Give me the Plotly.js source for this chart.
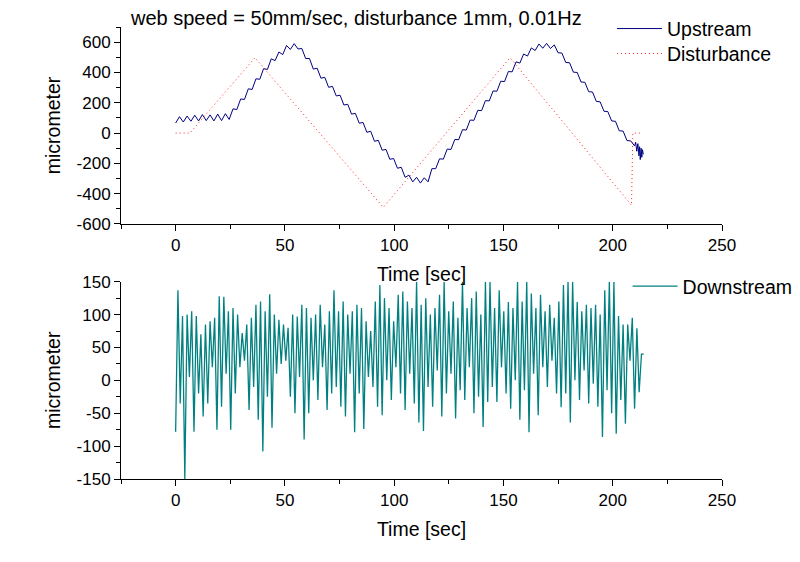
<!DOCTYPE html>
<html><head><meta charset="utf-8">
<script src="https://cdn.plot.ly/plotly-3.0.1.min.js"></script>
<style>html,body{margin:0;padding:0;background:#fff}#chart{width:800px;height:562px}</style>
</head><body><div id="chart"></div>
<script>
const chartTitle = 'web speed = 50mm/sec, disturbance 1mm, 0.01Hz';
const xTitle = 'Time [sec]';
const yTitle = 'micrometer';
const seriesNames = ['Upstream', 'Disturbance', 'Downstream'];

// Upstream: sampled every 1.75 s from t = 0, plus a short dense tail at the end
const upStep = 1.75;
const upValues = [
 66,108,73,112,78,118,80,122,82,120,
 80,125,82,128,90,160,155,225,222,292,
 288,358,355,425,420,490,478,535,518,578,
 552,590,555,558,492,492,422,428,362,368,
 302,308,245,250,185,190,125,130,65,70,
 5,12,-54,-48,-113,-108,-173,-168,-232,-226,
 -292,-278,-322,-292,-330,-295,-322,-235,-235,-170,
 -172,-106,-108,-42,-44,22,20,86,84,150,
 148,214,212,278,276,342,340,406,404,470,
 462,522,508,562,545,588,560,592,558,582,
 530,528,466,464,402,400,337,335,273,271,
 209,206,144,142,80,78,15,13,-49,-52,
 -85
];
const upTailTime = [210.5, 211, 211.5, 212, 212.3, 212.6, 213, 213.3, 213.6, 214];
const upTailValues = [-60, -120, -70, -150, -90, -175, -100, -160, -110, -140];

// Disturbance (triangle wave)
const distTime = [0, 6.5, 36.3, 95, 153, 208.6, 209.2, 213.5];
const distValues = [0, 0, 497, -490, 497, -476, 0, 0];

// Downstream: sampled every 1.05 s from t = 0
const downStep = 1.05;
const downValues = [
 -78,137,-35,98,-150,100,5,105,-78,98,
 -20,70,-55,85,-35,90,20,95,-75,128,
 -40,127,10,105,-75,110,-20,100,20,72,
 30,85,-45,95,-10,115,-60,120,-108,105,
 -25,131,-72,100,10,92,25,85,30,80,
 -25,100,-50,97,5,115,-90,110,-50,95,
 0,100,-30,115,20,85,-45,105,-20,137,
 -10,105,-40,120,-55,100,10,105,-79,115,
 -20,110,-74,90,5,75,-10,120,-40,145,
 -53,125,0,110,-30,90,20,130,-20,135,
 -45,120,10,110,-35,150,-64,115,-77,125,
 -10,100,-40,110,15,130,-55,150,-20,105,
 10,120,-58,95,-15,150,-30,110,20,125,
 -50,135,-25,100,-71,150,-33,150,-10,110,
 -33,137,20,105,-20,119,-43,110,0,150,
 -60,120,-15,150,-79,132,10,110,-53,130,
 20,105,-10,115,30,95,-20,120,-41,145,
 -20,150,-64,150,0,119,-30,105,15,115,
 -35,110,-5,115,-40,100,-86,137,-15,150,
 -50,150,-81,98,-30,85,-66,85,30,95,
 -43,79,-18,40,40
];

const xTickVals = [0, 50, 100, 150, 200, 250];
const xTickText = ['0', '50', '100', '150', '200', '250'];
const topYTickVals = [-600, -400, -200, 0, 200, 400, 600];
const topYTickText = ['-600', '-400', '-200', '0', '200', '400', '600'];
const botYTickVals = [-150, -100, -50, 0, 50, 100, 150];
const botYTickText = ['-150', '-100', '-50', '0', '50', '100', '150'];

const upTime = upValues.map((_, i) => i * upStep).concat(upTailTime);
const upAll = upValues.concat(upTailValues);
const downTime = downValues.map((_, i) => i * downStep);

const FONT = 'Liberation Sans, Arial, sans-serif';

const traces = [
  {x: upTime, y: upAll, name: seriesNames[0], mode: 'lines', xaxis: 'x', yaxis: 'y',
   line: {color: '#000080', width: 1}, legend: 'legend'},
  {x: distTime, y: distValues, name: seriesNames[1], mode: 'lines', xaxis: 'x', yaxis: 'y',
   line: {color: '#ff2020', width: 1, dash: '1px,3px'}, legend: 'legend3'},
  {x: downTime, y: downValues, name: seriesNames[2], mode: 'lines', xaxis: 'x2', yaxis: 'y2',
   line: {color: '#008080', width: 1.3}, legend: 'legend2'}
];

function xAxis(anchor) {
  return {
    anchor: anchor, domain: [0, 1], range: [-25, 250],
    tickmode: 'array', tickvals: xTickVals, ticktext: xTickText,
    ticks: 'outside', ticklen: 6, tickwidth: 1, tickcolor: '#000',
    minor: {tickmode: 'linear', tick0: 0, dtick: 25, ticks: 'outside', ticklen: 4, tickwidth: 1, tickcolor: '#000', showgrid: false},
    showline: true, linecolor: '#000', linewidth: 1, showgrid: false, zeroline: false,
    tickfont: {size: 17, family: FONT, color: '#000'},
    title: {text: xTitle, font: {size: 19.5, family: FONT, color: '#000'}, standoff: 12}
  };
}
function yAxis(anchor, domain, range, vals, text, minorStep) {
  return {
    anchor: anchor, domain: domain, range: range,
    tickmode: 'array', tickvals: vals, ticktext: text,
    ticks: 'outside', ticklen: 6, tickwidth: 1, tickcolor: '#000',
    minor: {tickmode: 'linear', tick0: 0, dtick: minorStep, ticks: 'outside', ticklen: 4, tickwidth: 1, tickcolor: '#000', showgrid: false},
    showline: true, linecolor: '#000', linewidth: 1, showgrid: false, zeroline: false,
    tickfont: {size: 17, family: FONT, color: '#000'},
    title: {text: yTitle, font: {size: 19.5, family: FONT, color: '#000'}, standoff: 10}
  };
}

function legendAt(x, y) {
  return {x: x, xanchor: 'left', y: y, yanchor: 'top', bgcolor: 'rgba(0,0,0,0)',
          font: {size: 19.5, family: FONT, color: '#000'}, itemwidth: 45};
}

const layout = {
  width: 800, height: 562,
  margin: {l: 121, r: 78, t: 27, b: 83, autoexpand: false},
  paper_bgcolor: '#fff', plot_bgcolor: '#fff',
  font: {family: FONT, size: 17, color: '#000'},
  title: {text: chartTitle, xref: 'container', yref: 'container', x: 131 / 800, xanchor: 'left',
          y: 1 - 18 / 562, yanchor: 'middle', font: {size: 20, family: FONT, color: '#000'}},
  showlegend: true,
  legend: legendAt(0.8169, 1.039),
  legend3: legendAt(0.8169, 0.9836),
  legend2: legendAt(0.8429, 0.469),
  xaxis: xAxis('y'),
  yaxis: yAxis('x', [0.5642, 1], [-600, 700], topYTickVals, topYTickText, 100),
  xaxis2: xAxis('y2'),
  yaxis2: yAxis('x2', [0, 0.4365], [-150, 150], botYTickVals, botYTickText, 25)
};

Plotly.newPlot('chart', traces, layout, {displayModeBar: false, responsive: false});
</script>
</body></html>
